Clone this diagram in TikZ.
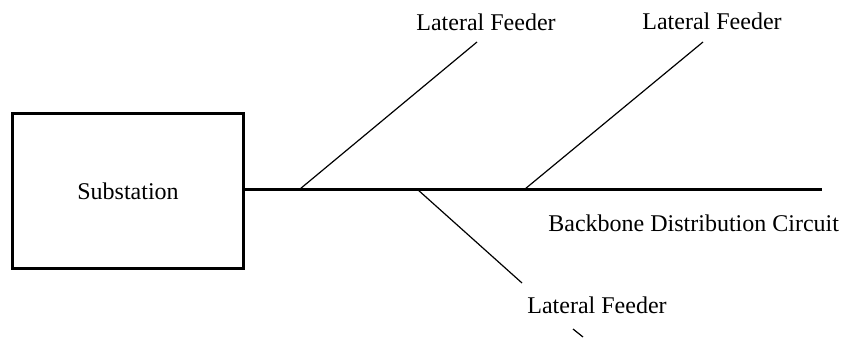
\documentclass[tikz,border=0pt]{standalone}
\usepackage{fontspec}
\setmainfont{Liberation Serif}
\begin{document}
\begin{tikzpicture}[x=0.5pt,y=-0.5pt,
  lbl/.style={inner sep=0pt,anchor=base,font=\fontsize{12}{14}\selectfont},
  mainline/.style={line width=1.5pt},
  lateral/.style={line width=0.6pt}]
\useasboundingbox (0,0) rectangle (844,337);
% substation box
\node[draw,line width=1.5pt,minimum width=115.5pt,minimum height=77.5pt,inner sep=0pt,
      font=\fontsize{12}{14}\selectfont] (box) at (128,191) {Substation};
% backbone
\coordinate (bbend) at (822,189);
\draw[mainline] (box.east |- bbend) -- (bbend);
% tap points on the backbone and feeder ends
\coordinate (t1) at (300,189);
\coordinate (t2) at (525,189);
\coordinate (t3) at (417,189);
\coordinate (e1) at (477,42);
\coordinate (e2) at (703,42);
\coordinate (e3) at (522,283);
\draw[lateral] (t1) -- (e1);
\draw[lateral] (t2) -- (e2);
\draw[lateral] (t3) -- (e3);
% labels
\node[lbl] (l1) at (486,30) {Lateral Feeder};
\node[lbl] (l2) at (712,29) {Lateral Feeder};
\node[lbl,anchor=base west] (l3) at (527,313) {Lateral Feeder};
\node[lbl,anchor=base west] (bb) at (548,231) {Backbone Distribution Circuit};
% short tick below the lower feeder label
\coordinate (k1) at (573,329);
\coordinate (k2) at (583,337);
\draw[lateral] (k1) -- (k2);
\end{tikzpicture}
\end{document}
